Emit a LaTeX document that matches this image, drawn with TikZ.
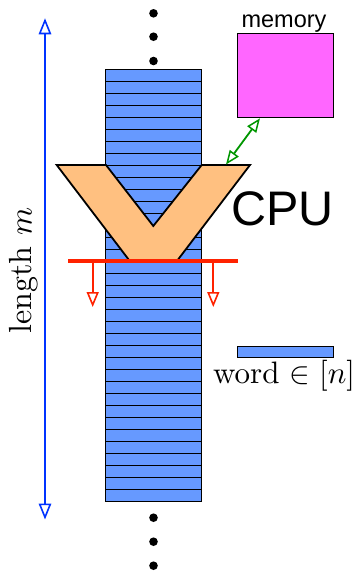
\RequirePackage{fix-cm}
\documentclass[tikz,border=0pt]{standalone}
\usepackage{fontspec}
\usepackage{graphicx}
\newfontfamily\arialfont{Liberation Sans}
\usetikzlibrary{arrows.meta}
\definecolor{stackblue}{RGB}{102,153,255}
\definecolor{memmag}{RGB}{255,102,255}
\definecolor{cpupeach}{RGB}{255,192,128}
\definecolor{redline}{RGB}{255,34,0}
\definecolor{bluearrow}{RGB}{0,51,255}
\definecolor{greenarrow}{RGB}{0,150,0}
\tikzset{
  cell/.style={draw=black, line width=1pt, fill=stackblue},
  dotmark/.style={fill=black, draw=none},
  opentip/.style={-{Triangle[open, length=15pt, width=12pt, line width=1.6pt]}},
  lenarrow/.style={draw=bluearrow, line width=2pt, {Triangle[open, length=16pt, width=12.5pt, line width=1.6pt]}-{Triangle[open, length=16pt, width=12.5pt, line width=1.6pt]}},
  memarrow/.style={draw=greenarrow, line width=1.8pt, {Triangle[open, length=14pt, width=11pt, line width=1.5pt]}-{Triangle[open, length=14pt, width=11pt, line width=1.5pt]}},
  readarrow/.style={draw=redline, line width=1.8pt, opentip},
}
\begin{document}
\begin{tikzpicture}[x=1pt, y=-1pt]
\useasboundingbox (0,0) rectangle (356,571);
% stack of words
\foreach \i in {0,...,35} {
  \path[cell] (105,{69.3+12*\i}) rectangle (201.5,{69.3+12*(\i+1)});
}
% dots
\foreach \yy [count=\k] in {13.3,36.7,61,517.7,541.7,565.7} {
  \node[circle, dotmark, minimum size=8.6pt, inner sep=0pt] (dot\k) at (153.5,\yy) {};
}
% memory
\node[draw=black, line width=1pt, fill=memmag, minimum width=96pt, minimum height=84pt, inner sep=0pt, anchor=north west] (mem) at (237.3,33.3) {};
\node[font=\arialfont\fontsize{23.5}{26}\selectfont, anchor=base, inner sep=0pt] (memlabel) at (284,27.5) {memory};
% CPU
\path[draw=black, line width=1.8pt, line join=miter, fill=cpupeach]
  (56.7,165) coordinate (cputl) -- (106,165) -- (153.3,226) -- (201.7,165) -- (250,165) coordinate (cputr)
  -- (177.7,260) -- (129,260) -- cycle;
\node[font=\arialfont\fontsize{48.5}{52}\selectfont, anchor=base west, inner sep=0pt] (cpulabel) at (230.9,225.5) {CPU};
% memory link
\coordinate (memfoot) at (260,118.3);
\coordinate (cpufoot) at (226,164.5);
\draw[memarrow] (memfoot) -- (cpufoot);
% read head
\coordinate (headl) at (68.3,261);
\coordinate (headr) at (238.3,261);
\draw[draw=redline, line width=3.2pt] (headl) -- (headr);
\coordinate (rl0) at (92.7,261);
\coordinate (rl1) at (92.7,307);
\coordinate (rr0) at (213.3,261);
\coordinate (rr1) at (213.3,307);
\draw[readarrow] (rl0) -- (rl1);
\draw[readarrow] (rr0) -- (rr1);
% length arrow
\coordinate (lentop) at (45,18.3);
\coordinate (lenbot) at (45,519.5);
\draw[lenarrow] (lentop) -- (lenbot);
\node[rotate=90, anchor=base, inner sep=0pt] (lenlabel) at (31.5,270.8) {\scalebox{3.2}{length $m$}};
% word legend
\node[draw=black, line width=1pt, fill=stackblue, minimum width=96pt, minimum height=11.6pt, inner sep=0pt, anchor=north west] (wordbox) at (237.3,345.7) {};
\node[anchor=base west, inner sep=0pt] (wordlabel) at (213,383.5) {\scalebox{3.1}{word $\in[n]$}};
\end{tikzpicture}
\end{document}
